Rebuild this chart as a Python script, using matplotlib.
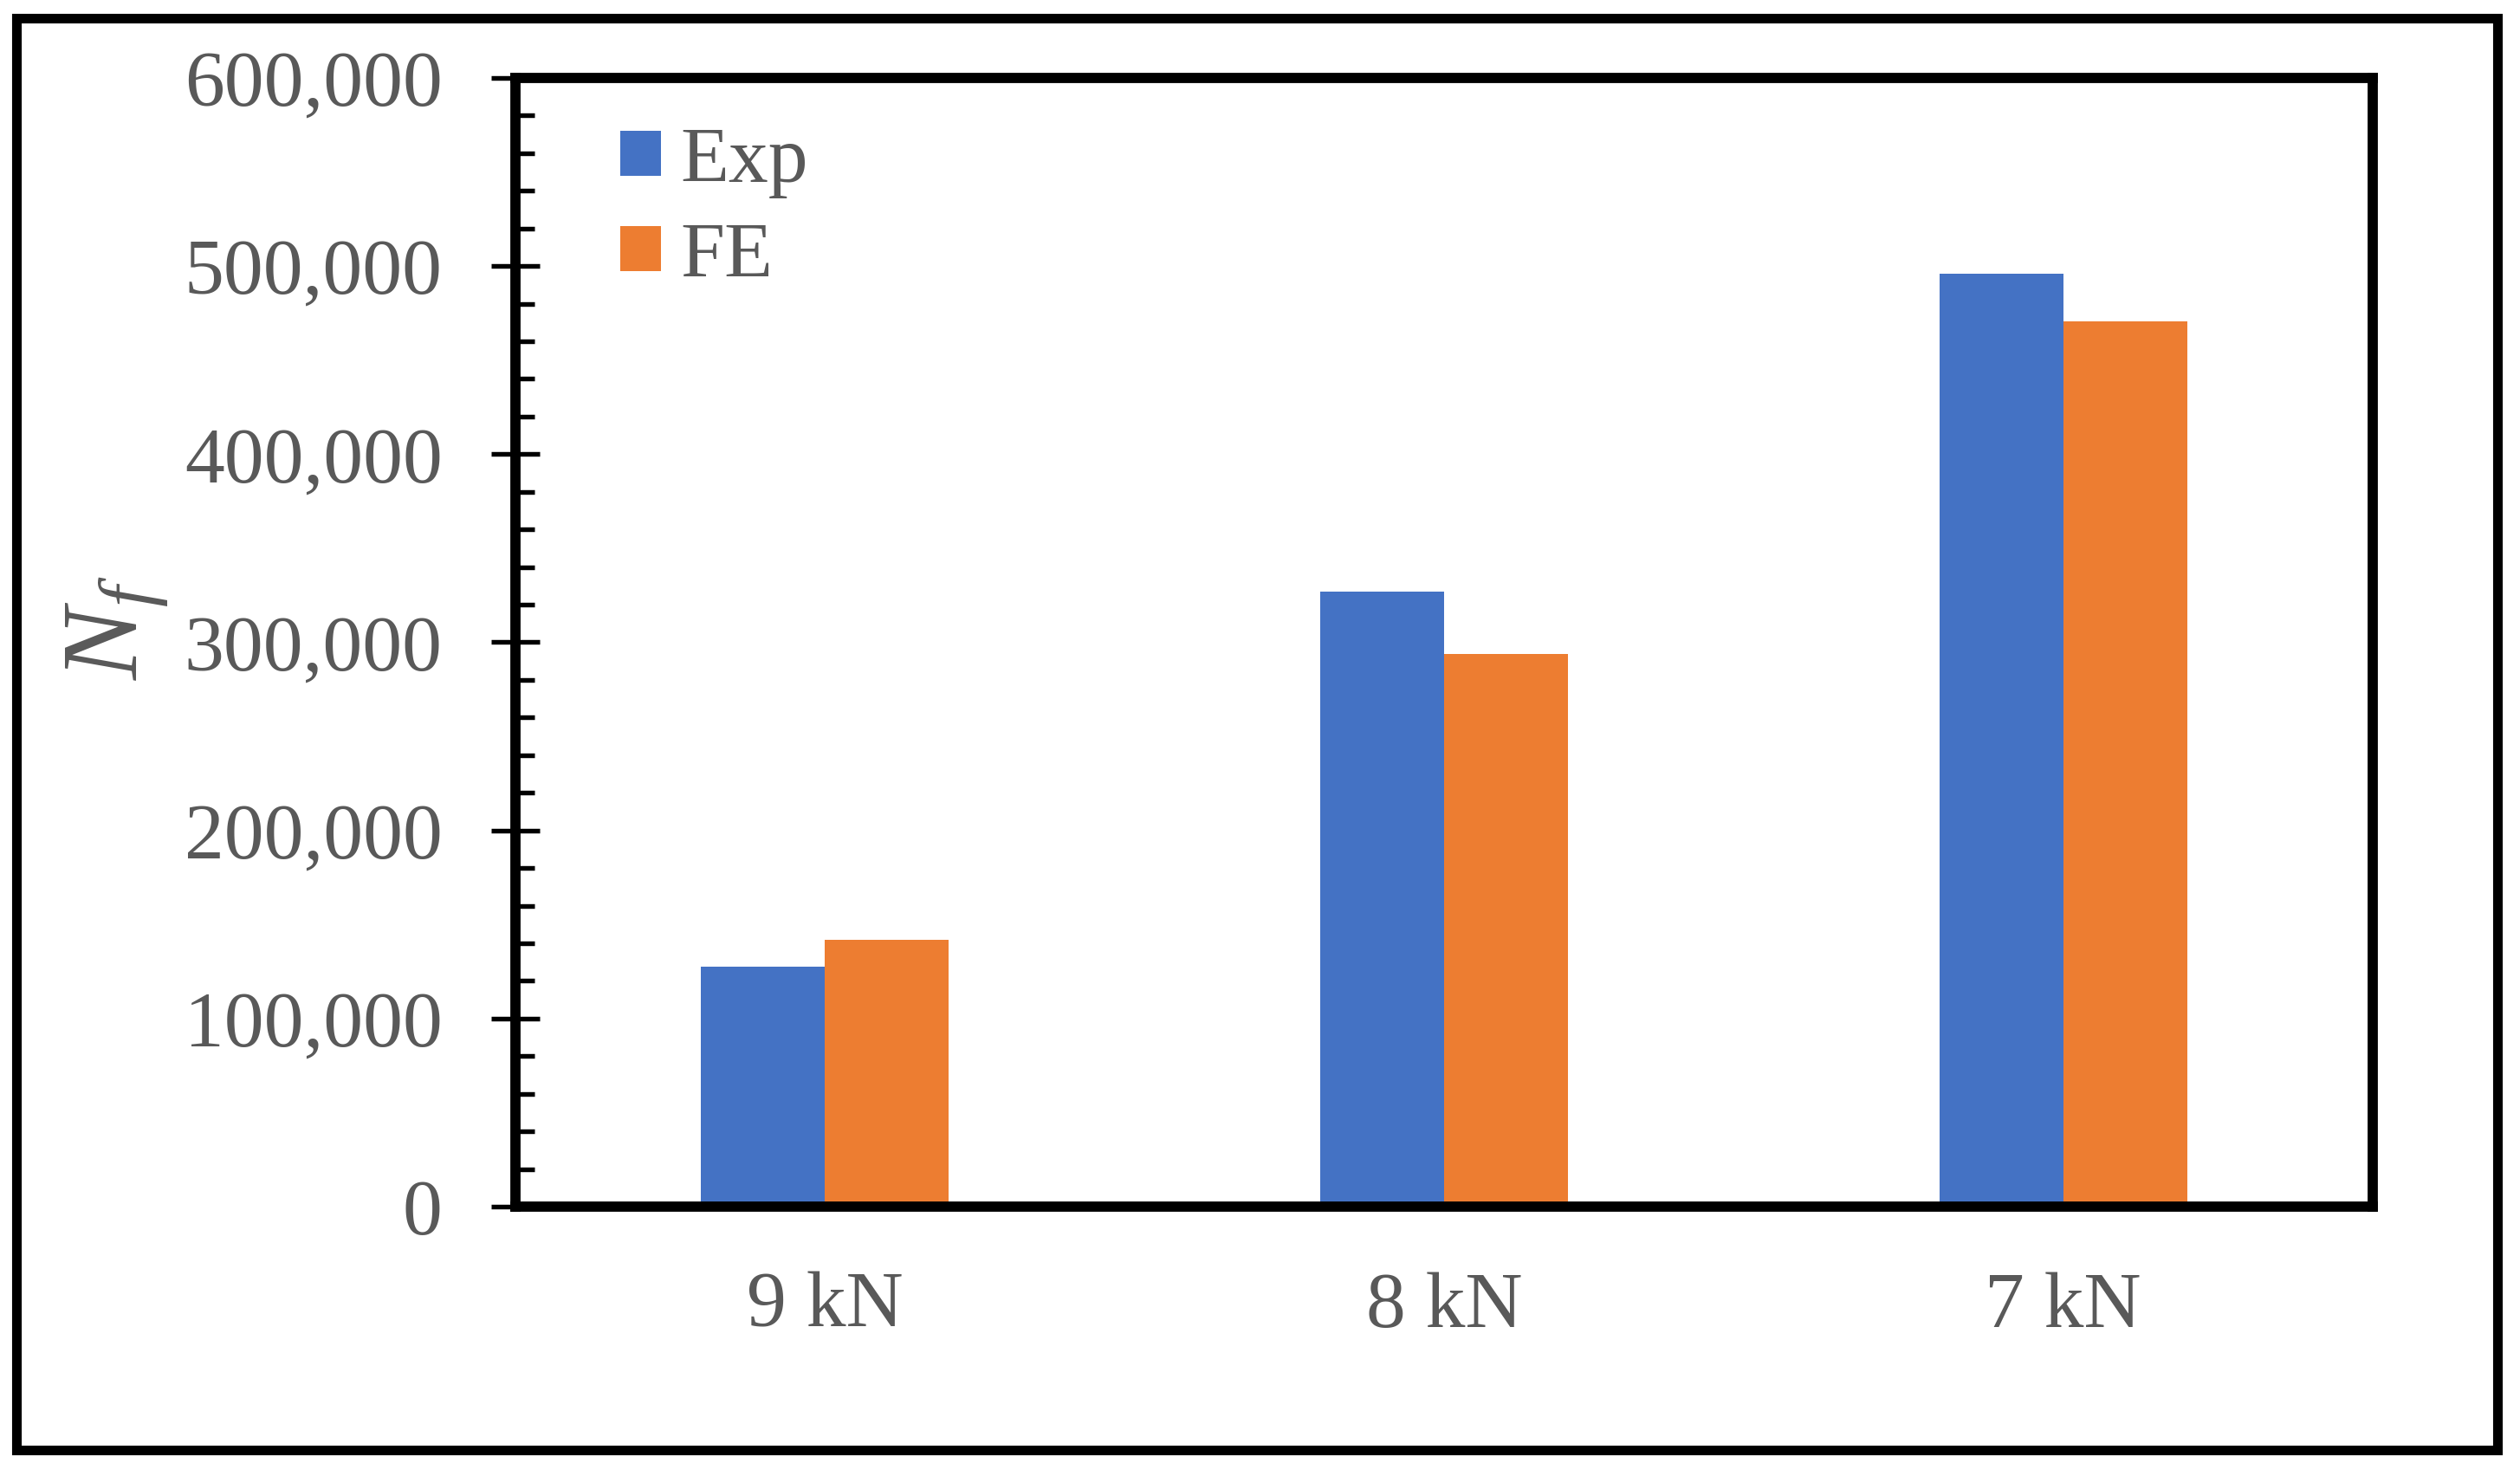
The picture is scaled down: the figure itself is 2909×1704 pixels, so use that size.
import matplotlib
matplotlib.use("Agg")
import matplotlib.pyplot as plt
import matplotlib.patches as patches
import matplotlib.ticker as ticker
import numpy as np

loads = ["9 kN", "8 kN", "7 kN"]
exp_cycles = [127500, 327000, 496000]
fe_cycles = [141800, 294000, 470500]

plt.rcParams["font.family"] = ["Liberation Serif", "DejaVu Serif"]
plt.rcParams["mathtext.fontset"] = "custom"
plt.rcParams["mathtext.rm"] = "Liberation Serif"
plt.rcParams["mathtext.it"] = "Liberation Serif:italic"

text_color = "#595959"
blue = "#4472C4"
orange = "#ED7D31"

fig = plt.figure(figsize=(29.09, 17.04), dpi=100)
ax = fig.add_axes([0.2045, 0.1825, 0.7371, 0.7647])

x = np.arange(len(loads))
w = 0.2
ax.bar(x - w / 2, exp_cycles, w, color=blue, label="Exp")
ax.bar(x + w / 2, fe_cycles, w, color=orange, label="FE")

ax.set_xlim(-0.5, len(loads) - 0.5)
ax.set_ylim(0, 600000)
ax.set_xticks(x)
ax.set_xticklabels(loads)
ax.yaxis.set_major_locator(ticker.MultipleLocator(100000))
ax.yaxis.set_minor_locator(ticker.MultipleLocator(20000))
ax.yaxis.set_major_formatter(ticker.FuncFormatter(lambda v, p: f"{int(v):,}"))

for s in ax.spines.values():
    s.set_linewidth(8.5)
    s.set_color("black")

ax.tick_params(axis="y", which="major", direction="inout", length=41, width=3.9,
               pad=40, labelsize=66, labelcolor=text_color, color="black")
ax.tick_params(axis="y", which="minor", direction="in", length=16, width=3.9, color="black")
ax.tick_params(axis="x", which="both", length=0, pad=54, labelsize=66, labelcolor=text_color)

fig.text(0.0465, 0.5748, "$N_f$", rotation=90, ha="center", va="center",
         fontsize=90, color=text_color)

leg = ax.legend(loc="upper left", bbox_to_anchor=(0.0564, 0.957), frameon=False,
                fontsize=66, handlelength=0.51, handleheight=0.51, handletextpad=0.25,
                labelspacing=0.3, borderpad=0, borderaxespad=0)
for t in leg.get_texts():
    t.set_color(text_color)

# outer frame round the whole picture
frame = patches.Rectangle((0.0067, 0.0176), 0.9844, 0.9698, transform=fig.transFigure,
                          fill=False, edgecolor="black", linewidth=8)
fig.patches.append(frame)

fig.savefig("out.png", dpi=100)
